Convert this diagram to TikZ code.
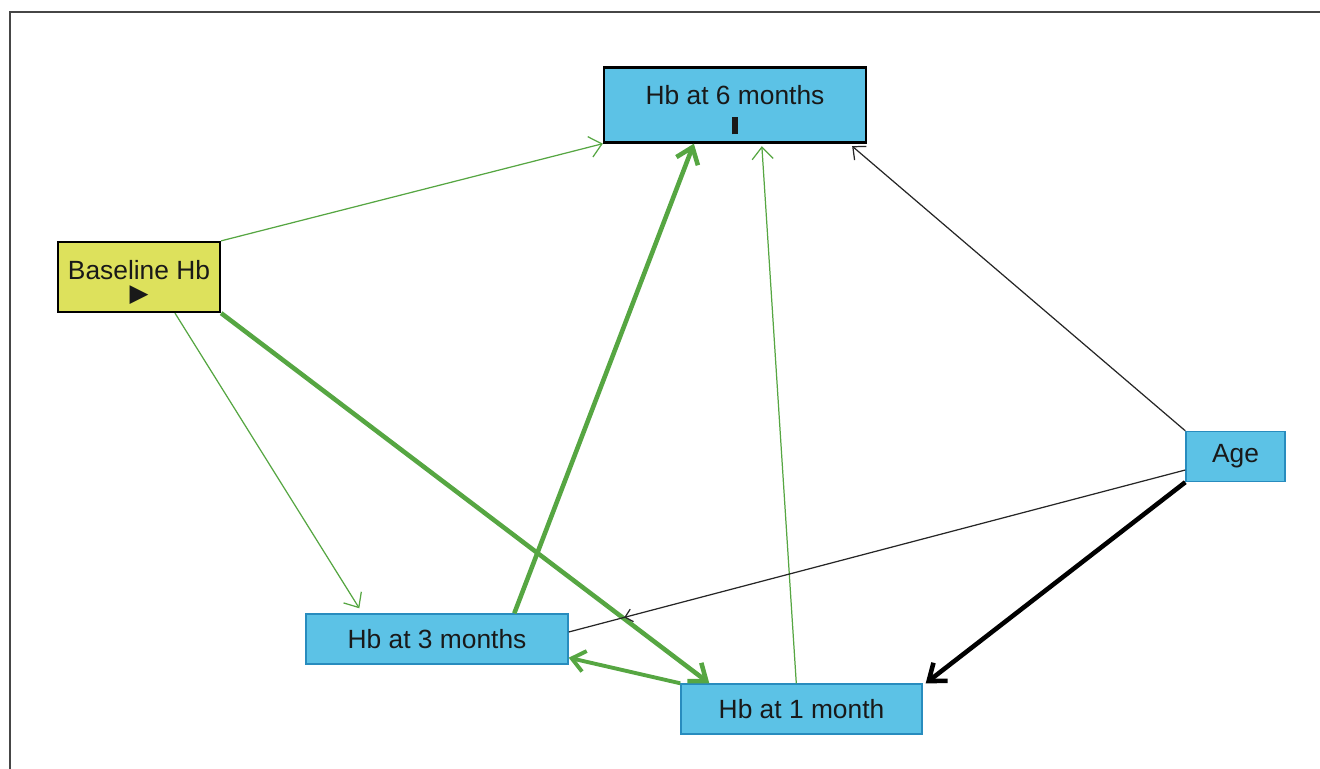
\documentclass[tikz,border=0pt]{standalone}
\usepackage{fontspec}
\setmainfont{Liberation Sans}
\newfontfamily\symfont{DejaVu Sans}
\usepackage{xcolor}
\usepackage{tikz}
\usetikzlibrary{arrows.meta, positioning, decorations.markings}

\definecolor{boxblue}{RGB}{92,194,230}
\definecolor{edgeblue}{RGB}{40,140,190}
\definecolor{boxyellow}{RGB}{221,225,92}
\definecolor{pathgreen}{RGB}{86,166,66}
\definecolor{framegray}{RGB}{70,70,70}

\begin{document}
\begin{tikzpicture}[
    on grid,
    every node/.style={font=\fontsize{15}{18}\selectfont, text=black!90},
    outcome/.style={rectangle, draw=black, line width=1.3pt, fill=boxblue, minimum width=5.24cm, minimum height=1.5cm, align=center, inner sep=0pt},
    exposure/.style={rectangle, draw=black, line width=1.3pt, fill=boxyellow, minimum width=3.24cm, minimum height=1.4cm, align=center, inner sep=0pt},
    covar/.style={rectangle, draw=edgeblue, line width=0.8pt, fill=boxblue, minimum height=1.0cm, align=center, inner sep=0pt},
    thinpath/.style={-{Straight Barb[length=2.4mm, width=4.2mm]}, pathgreen, line width=0.7pt},
    thickpath/.style={-{Straight Barb[length=3mm, width=4.6mm]}, pathgreen, line width=2.6pt},
    midpath/.style={-{Straight Barb[length=2.6mm, width=4.2mm]}, pathgreen, line width=2.2pt},
    thinblack/.style={black!85, line width=0.7pt},
    thickblack/.style={-{Straight Barb[length=3mm, width=4.6mm]}, black, line width=2.6pt}
]

\useasboundingbox (0,0) rectangle (26.4,-15.38);
\draw[framegray, line width=1.2pt] (0.2,-15.38) |- (26.4,-0.24);

\node[outcome] (hbsix) at (14.7,-2.1) {\rule{0pt}{16.5pt}Hb at 6 months\\[-1pt]\rule{3.5pt}{10pt}};
\node[exposure, below left=3.44cm and 11.92cm of hbsix] (baseline) {\rule{0pt}{17pt}Baseline Hb\\[-5pt]{\symfont\fontsize{14}{14}\selectfont ▶}};
\node[covar, minimum width=1.98cm, below right=7.03cm and 10.01cm of hbsix] (age) {Age};
\node[covar, minimum width=5.24cm, below left=10.68cm and 5.96cm of hbsix] (hbthree) {Hb at 3 months};
\node[covar, minimum width=4.82cm, below right=1.40cm and 7.29cm of hbthree] (hbone) {Hb at 1 month};

% green paths
\draw[thinpath] (baseline.north east) -- (hbsix.south west);
\draw[thinpath] ([xshift=0.72cm]baseline.south) -- ([xshift=1.08cm, yshift=0.1cm]hbthree.north west);
\draw[thickpath] (baseline.south east) -- ([xshift=0.58cm]hbone.north west);
\draw[thickpath] ([xshift=4.18cm]hbthree.north west) -- ([xshift=1.82cm]hbsix.south west);
\draw[thinpath] ([xshift=2.32cm]hbone.north west) -- ([xshift=3.18cm, yshift=-0.05cm]hbsix.south west);
\draw[midpath] (hbone.north west) -- ([yshift=0.14cm]hbthree.south east);

% age paths
\draw[thinblack, -{Straight Barb[length=2mm, width=3.6mm]}] (age.north west) -- ([xshift=-0.3cm, yshift=-0.05cm]hbsix.south east);
\draw[thinblack, postaction={decorate}, decoration={markings, mark=at position 0.91 with {\arrow{Straight Barb[length=1.4mm, width=2.6mm]}}}] ([yshift=-0.27cm]age.west) -- ([yshift=0.14cm]hbthree.east);
\draw[thickblack] (age.south west) -- ([xshift=0.06cm]hbone.north east);

\end{tikzpicture}
\end{document}
